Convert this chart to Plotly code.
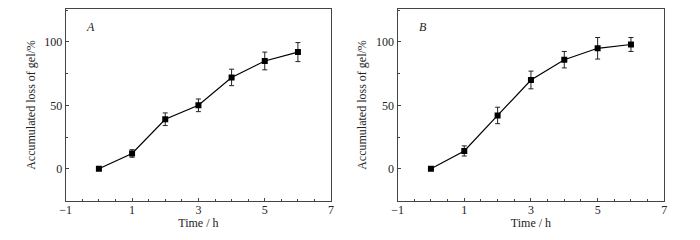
import plotly.graph_objects as go

time_h = [0, 1, 2, 3, 4, 5, 6]
loss_A = [0, 12, 39, 50, 72, 85, 92]
err_A = [0, 3, 5, 5, 6.5, 7, 7.5]
loss_B = [0, 14, 42, 70, 86, 95, 98]
err_B = [0, 4, 6.5, 7, 6.5, 8.5, 5.5]
panel_labels = ["A", "B"]

fig = go.Figure()
font = dict(family="Liberation Serif", size=12, color="#222")
title_font = dict(family="Liberation Serif", size=12, color="#222")

for i, (y, e) in enumerate([(loss_A, err_A), (loss_B, err_B)]):
    suffix = "" if i == 0 else "2"
    fig.add_trace(go.Scatter(
        x=time_h, y=y, mode="lines+markers",
        line=dict(color="black", width=1.2),
        marker=dict(symbol="square", size=6, color="black"),
        error_y=dict(type="data", array=e, color="#222", thickness=1, width=2.5),
        xaxis="x" + suffix, yaxis="y" + suffix, showlegend=False))

axis_common = dict(showline=True, linecolor="#444", linewidth=1.2, mirror=True,
                   ticks="inside", ticklen=3, tickcolor="#444", showgrid=False,
                   zeroline=False, tickfont=font, automargin=False)
xcommon = dict(axis_common, range=[-1, 7], tick0=-1, dtick=2, ticklabelstandoff=-3,
               minor=dict(dtick=0.5, ticks="inside", ticklen=2, tickcolor="#444", showgrid=False),
               title=dict(text="Time / h", font=title_font, standoff=0))
ycommon = dict(axis_common, range=[-25.5, 126], tick0=0, dtick=50,
               minor=dict(dtick=25, ticks="inside", ticklen=2, tickcolor="#444", showgrid=False),
               title=dict(text="Accumulated loss of gel/%", font=title_font, standoff=6))

fig.update_layout(
    width=700, height=240, margin=dict(l=0, r=0, t=0, b=0),
    plot_bgcolor="white", paper_bgcolor="white", font=font,
    xaxis=dict(xcommon, domain=[0.0939, 0.473], anchor="y"),
    yaxis=dict(ycommon, domain=[0.1625, 0.9625], anchor="x"),
    xaxis2=dict(xcommon, domain=[0.568, 0.949], anchor="y2"),
    yaxis2=dict(ycommon, domain=[0.1625, 0.9625], anchor="x2"),
)

for i, lab in enumerate(panel_labels):
    suffix = "" if i == 0 else "2"
    fig.add_annotation(x=-0.25, y=112, xref="x" + suffix, yref="y" + suffix,
                       text="<i>%s</i>" % lab, showarrow=False, font=font)

fig.write_html("out.html", config={"displayModeBar": False},
               post_script="document.body.style.margin='0';")
